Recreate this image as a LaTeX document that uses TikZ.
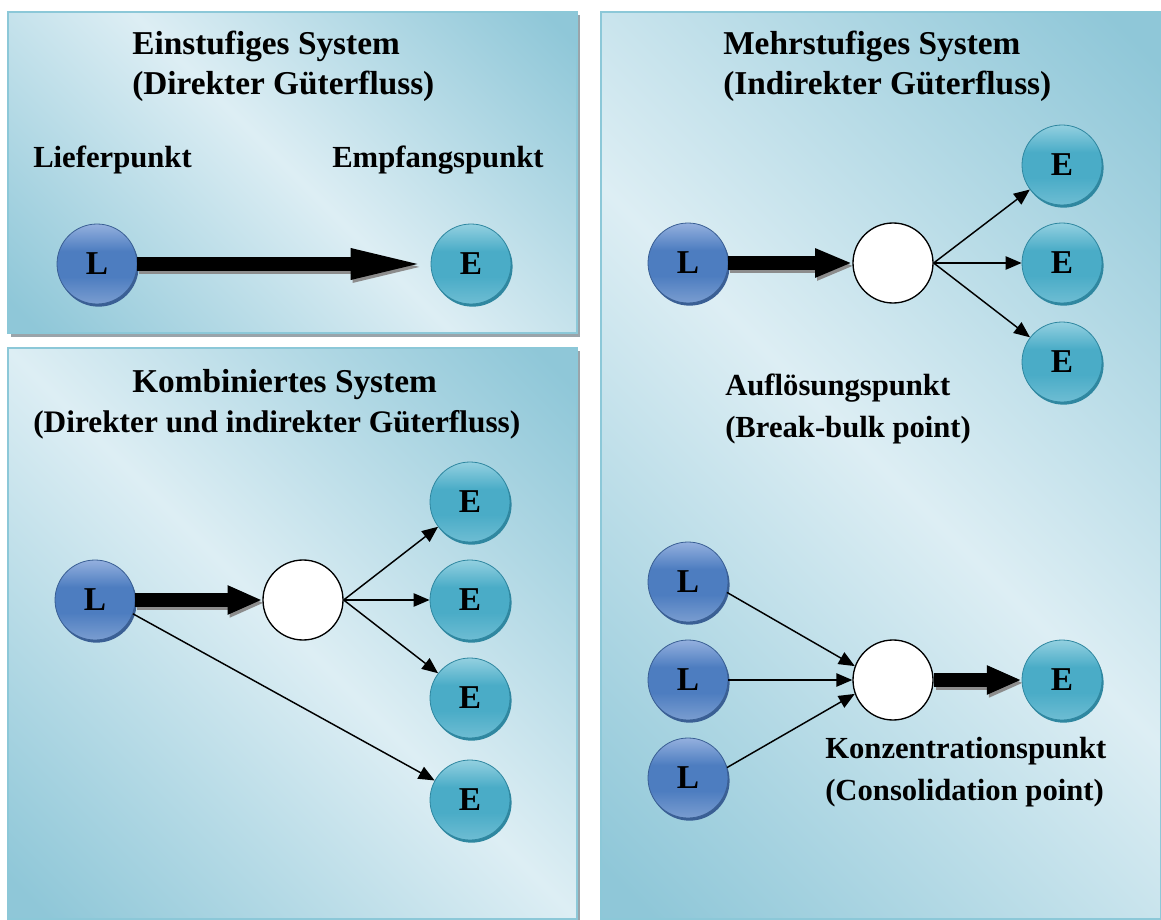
\documentclass[tikz,border=0pt]{standalone}
\usepackage{fontspec}
\setmainfont{Liberation Serif}
\usetikzlibrary{arrows.meta,shadows}

\definecolor{pdark}{HTML}{8FC7D8}
\definecolor{plight}{HTML}{DDEEF4}
\definecolor{pborder}{HTML}{8CC8D8}
\definecolor{pshadow}{HTML}{9AA4AA}
\definecolor{ltop}{HTML}{94B0DE}
\definecolor{lmid}{HTML}{4D7DC0}
\definecolor{lbot}{HTML}{7A9DD0}
\definecolor{lrim}{HTML}{3A5F94}
\definecolor{etop}{HTML}{93D0E0}
\definecolor{emid}{HTML}{4AACC7}
\definecolor{ebot}{HTML}{6EBDD3}
\definecolor{erim}{HTML}{2F87A0}

\pgfdeclarehorizontalshading{panelsh}{100bp}{color(0bp)=(pdark);color(17bp)=(pdark);color(50bp)=(plight);color(83bp)=(pdark);color(100bp)=(pdark)}
\pgfdeclareverticalshading{lsh}{100bp}{color(0bp)=(lbot);color(25bp)=(lbot);color(42bp)=(lmid);color(58bp)=(lmid);color(75bp)=(ltop);color(100bp)=(ltop)}
\pgfdeclareverticalshading{esh}{100bp}{color(0bp)=(ebot);color(25bp)=(ebot);color(42bp)=(emid);color(58bp)=(emid);color(75bp)=(etop);color(100bp)=(etop)}

\tikzset{
  panel/.style={shade, shading=panelsh, shading angle=45, draw=pborder, line width=1.5pt},
  panelshadow/.style={fill=pshadow},
  lbl/.style={font=\fontsize{23}{30}\selectfont\bfseries, inner sep=0pt},
  ttl/.style={font=\fontsize{25}{31}\selectfont\bfseries, inner sep=0pt},
  ball/.style={circle, minimum size=60pt, inner sep=0pt, shade, line width=0.6pt,
    font=\fontsize{25}{28}\selectfont\bfseries},
  lball/.style={ball, shading=lsh, draw=lrim,
    drop shadow={shadow xshift=1.2pt, shadow yshift=-2pt, fill=lrim, opacity=1}},
  eball/.style={ball, shading=esh, draw=erim,
    drop shadow={shadow xshift=1.2pt, shadow yshift=-2pt, fill=erim, opacity=1}},
  wball/.style={circle, minimum size=60pt, inner sep=0pt, fill=white, draw=black, line width=1pt},
  thin/.style={line width=1.1pt, -{Triangle[length=12pt,width=10pt]}},
  fat/.style={line width=11pt, -{Triangle[length=#1,width=20pt]}},
  fatshadow/.style={fat=#1, draw=black!45, transform canvas={xshift=1.5pt,yshift=-2.2pt}},
}

\begin{document}
\begin{tikzpicture}[x=0.75pt,y=-0.75pt]
\useasboundingbox (0,0) rectangle (1161,920);

% panels
\fill[panelshadow] (11,15) rectangle (580,337);
\path[panel] (8,12) rectangle (577,333);
\fill[panelshadow] (11,351) rectangle (580,920);
\path[panel] (8,348) rectangle (577,919);
\path[panel] (601,12) rectangle (1161,919);

% ---------- Panel 1: Einstufiges System ----------
\node[ttl, anchor=base west] (t1a) at (132,55) {Einstufiges System};
\node[ttl, anchor=base west] (t1b) at (132,95) {(Direkter Güterfluss)};
\node[lbl, anchor=base west] (t1c) at (33,168) {Lieferpunkt};
\node[lbl, anchor=base west] (t1d) at (332,168) {Empfangspunkt};
\node[lball] (p1L) at (97,264) {L};
\node[eball] (p1E) at (471,264) {E};
\draw[fatshadow=60pt] (p1L) -- (p1E);
\draw[fat=60pt] (p1L) -- (p1E);

% ---------- Panel 2: Kombiniertes System ----------
\node[ttl, anchor=base west] (t2a) at (132,392) {Kombiniertes System};
\node[ttl, anchor=base west, font=\fontsize{23.5}{31}\selectfont\bfseries] (t2b) at (33,432) {(Direkter und indirekter Güterfluss)};
\node[lball] (p2L) at (95,600) {L};
\node[wball] (p2W) at (303,600) {};
\node[eball] (p2E1) at (470,502) {E};
\node[eball] (p2E2) at (470,600) {E};
\node[eball] (p2E3) at (470,698) {E};
\node[eball] (p2E4) at (470,800) {E};
\draw[fatshadow=26pt] (p2L) -- (p2W);
\draw[fat=26pt] (p2L) -- (p2W);
\draw[thin] (p2W.east) -- (p2E1);
\draw[thin] (p2W.east) -- (p2E2);
\draw[thin] (p2W.east) -- (p2E3);
\draw[thin] (p2L.-20) -- (p2E4);

% ---------- Right panel: Mehrstufiges System ----------
\node[ttl, anchor=base west] (t3a) at (723,55) {Mehrstufiges System};
\node[ttl, anchor=base west] (t3b) at (723,95) {(Indirekter Güterfluss)};
\node[lball] (p3L) at (688,263) {L};
\node[wball] (p3W) at (893,263) {};
\node[eball] (p3E1) at (1062,165) {E};
\node[eball] (p3E2) at (1062,263) {E};
\node[eball] (p3E3) at (1062,362) {E};
\draw[fatshadow=28pt] (p3L) -- (p3W);
\draw[fat=28pt] (p3L) -- (p3W);
\draw[thin] (p3W.east) -- (p3E1);
\draw[thin] (p3W.east) -- (p3E2);
\draw[thin] (p3W.east) -- (p3E3);
\node[lbl, anchor=base west] (t3c) at (725,395) {Auflösungspunkt};
\node[lbl, anchor=base west] (t3d) at (725,437) {(Break-bulk point)};

% consolidation
\node[lball] (p4L1) at (688,582) {L};
\node[lball] (p4L2) at (688,680) {L};
\node[lball] (p4L3) at (688,778) {L};
\node[wball] (p4W) at (893,680) {};
\node[eball] (p4E) at (1062,680) {E};
\draw[thin] (p4L1.-15) -- (p4W.160);
\draw[thin] (p4L2.east) -- (p4W.west);
\draw[thin] (p4L3.15) -- (p4W.200);
\draw[fatshadow=26pt] (p4W) -- (p4E);
\draw[fat=26pt] (p4W) -- (p4E);
\node[lbl, anchor=base west] (t4a) at (825,758) {Konzentrationspunkt};
\node[lbl, anchor=base west] (t4b) at (825,800) {(Consolidation point)};
\end{tikzpicture}
\end{document}
